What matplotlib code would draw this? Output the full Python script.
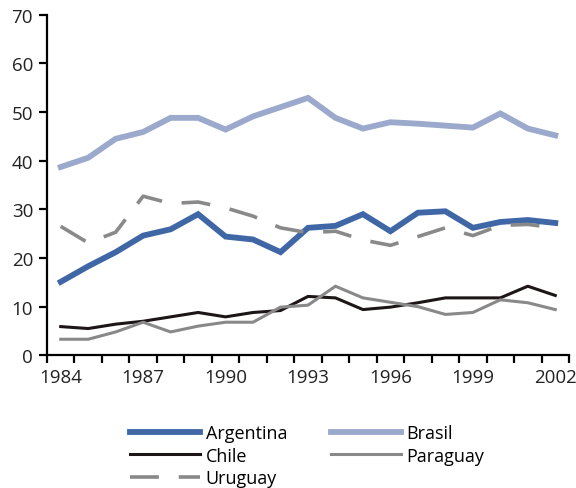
import matplotlib
matplotlib.use("Agg")
import matplotlib.pyplot as plt
from matplotlib.ticker import FixedLocator, NullFormatter

plt.rcParams['font.family'] = ['Open Sans', 'DejaVu Sans']

years = list(range(1984, 2003))
argentina = [15.1, 18.3, 21.2, 24.6, 25.9, 29.0, 24.4, 23.8, 21.2, 26.2,
             26.6, 29.0, 25.5, 29.3, 29.6, 26.2, 27.4, 27.8, 27.2]
brasil = [38.7, 40.6, 44.5, 45.9, 48.8, 48.8, 46.4, 49.1, 51.0, 52.9,
          48.8, 46.6, 47.9, 47.6, 47.2, 46.8, 49.7, 46.6, 45.2]
chile = [5.9, 5.5, 6.4, 7.0, 7.9, 8.8, 7.9, 8.8, 9.2, 12.1,
         11.8, 9.4, 9.9, 10.8, 11.8, 11.8, 11.8, 14.2, 12.3]
paraguay = [3.3, 3.3, 4.8, 6.8, 4.8, 6.0, 6.8, 6.8, 9.9, 10.3,
            14.2, 11.8, 10.9, 10.0, 8.4, 8.8, 11.4, 10.8, 9.4]
uruguay = [26.5, 23.1, 25.3, 32.7, 31.2, 31.5, 30.3, 28.6, 26.2, 25.2,
           25.5, 23.7, 22.6, 24.4, 26.2, 24.6, 26.7, 26.9, 26.2]

year_labels = [str(y) for y in years[::3]]

fig = plt.figure(figsize=(5.76, 4.89), dpi=100)
ax = fig.add_axes([47 / 576, 1 - 356.3 / 489, (569 - 47) / 576, (356.3 - 15.7) / 489])

x = list(range(len(years)))
l_arg, = ax.plot(x, argentina, color='#3F67A6', lw=4.2, solid_joinstyle='miter', label='Argentina')
l_bra, = ax.plot(x, brasil, color='#9AA9CC', lw=4.2, solid_joinstyle='miter', label='Brasil')
l_chi, = ax.plot(x, chile, color='#1C1616', lw=2.2, label='Chile')
l_par, = ax.plot(x, paraguay, color='#898989', lw=2.2, label='Paraguay')
l_uru, = ax.plot(x, uruguay, color='#898989', lw=2.6, dashes=(8, 5.5),
                 dash_capstyle='butt', label='Uruguay')

ax.set_xlim(-0.5, len(years) - 0.5)
ax.set_ylim(0, 70)
ax.set_yticks(range(0, 71, 10))

ax.set_xticks(x[::3])
ax.set_xticklabels(year_labels)
ax.xaxis.set_minor_locator(FixedLocator([i - 0.5 for i in range(len(years) + 1)]))
ax.xaxis.set_minor_formatter(NullFormatter())
ax.tick_params(axis='x', which='major', length=0, pad=9, labelsize=13.5, colors='#222222')
ax.tick_params(axis='x', which='minor', length=6, width=1.6, direction='out')
ax.tick_params(axis='y', which='major', length=6, width=1.6, direction='out',
               labelsize=13.5, pad=4, labelcolor='#222222')

for side in ('top', 'right'):
    ax.spines[side].set_visible(False)
for side in ('left', 'bottom'):
    ax.spines[side].set_linewidth(1.6)
    ax.spines[side].set_color('black')

fig.legend(handles=[l_arg, l_chi, l_uru, l_bra, l_par], ncol=2, frameon=False,
           loc='upper left', bbox_to_anchor=(130 / 576, 1 - 425 / 489),
           borderpad=0, borderaxespad=0, handlelength=3.9, handletextpad=0.3,
           columnspacing=2.4, labelspacing=0.25, fontsize=13)

fig.savefig('out.png', dpi=100)
